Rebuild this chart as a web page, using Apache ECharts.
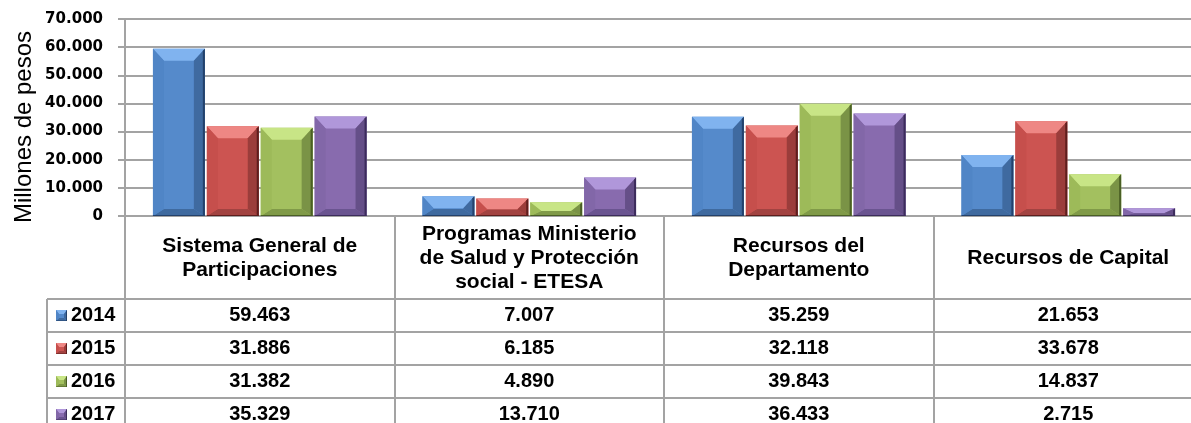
<!DOCTYPE html>
<html>
<head>
<meta charset="utf-8">
<script src="https://cdn.jsdelivr.net/npm/echarts@6/dist/echarts.min.js"></script>
<style>
  html, body { margin: 0; padding: 0; background: #fff; }
  #chart { width: 1191px; height: 423px; }
</style>
</head>
<body>
<div id="chart"></div>
<script>
// data (millones de pesos)
const categories = [
  'Sistema General de\nParticipaciones',
  'Programas Ministerio\nde Salud y Protección\nsocial - ETESA',
  'Recursos del\nDepartamento',
  'Recursos de Capital'
]
const years = ['2014', '2015', '2016', '2017']
const values2014 = [59463, 7007, 35259, 21653]
const values2015 = [31886, 6185, 32118, 33678]
const values2016 = [31382, 4890, 39843, 14837]
const values2017 = [35329, 13710, 36433, 2715]
const seriesValues = [values2014, values2015, values2016, values2017]

// bevel colours per year
const palette = [
  { face: '#558acb', top: '#80b3ef', left: '#5085c6', right: '#3f6aa0', bottom: '#3f6a9f', edge: '#23416b' },
  { face: '#cc5451', top: '#ee8784', left: '#c64f4c', right: '#9b3d3b', bottom: '#a24341', edge: '#5e1e1d' },
  { face: '#a3c05f', top: '#c8e586', left: '#9dba59', right: '#7a9346', bottom: '#809a48', edge: '#4a5f25' },
  { face: '#886bae', top: '#b097da', left: '#8267a8', right: '#654f88', bottom: '#6a5490', edge: '#3c2c5c' }
]

const lineColor = '#a3a3a3'
const fmt = (v) => String(v).replace(/\B(?=(\d{3})+(?!\d))/g, '.')

function bevelShapes(x0, y0, x1, y1, c, bs, bt, bb, e) {
  const h = y1 - y0
  if (bt + bb > h) {
    const k = h / (bt + bb)
    bt *= k
    bb *= k
  }
  bs = Math.min(bs, (x1 - x0) / 2)
  const poly = (pts, fill) => ({ type: 'polygon', shape: { points: pts }, style: { fill: fill } })
  return [
    poly([[x0, y0], [x1, y0], [x1, y1], [x0, y1]], c.face),
    poly([[x0, y0], [x1, y0], [x1 - bs, y0 + bt], [x0 + bs, y0 + bt]], c.top),
    poly([[x0, y1], [x1, y1], [x1 - bs, y1 - bb], [x0 + bs, y1 - bb]], c.bottom),
    poly([[x0, y0], [x0 + bs, y0 + bt], [x0 + bs, y1 - bb], [x0, y1]], c.left),
    poly([[x1, y0], [x1 - bs, y0 + bt], [x1 - bs, y1 - bb], [x1, y1]], c.right),
    poly([[x1 - e, y0 + e], [x1, y0], [x1, y1], [x1 - e, y1]], c.edge),
    poly([[x0, y1 - e / 2], [x1, y1 - e / 2], [x1, y1], [x0, y1]], c.edge)
  ]
}

function renderBar(params, api) {
  const cat = api.value(0)
  const val = api.value(1)
  const base = api.coord([cat, 0])
  const top = api.coord([cat, val])
  const catW = api.size([1, 0])[0]
  const slot = catW * 0.8 / 4
  const x0 = base[0] - catW * 0.4 + slot * params.seriesIndex + 1
  const x1 = x0 + slot - 2
  return {
    type: 'group',
    children: bevelShapes(x0, top[1], x1, base[1], palette[params.seriesIndex], 11, 12, 7, 2)
  }
}

const chart = echarts.init(document.getElementById('chart'))

chart.setOption({
  animation: false,
  backgroundColor: '#fff',
  grid: {
    left: 125,
    top: 19,
    width: 1078,
    height: 197,
    outerBoundsMode: 'none'
  },
  xAxis: {
    type: 'category',
    data: categories,
    axisLine: { lineStyle: { color: lineColor, width: 2 } },
    axisTick: { show: true, length: 220, lineStyle: { color: lineColor, width: 2 } },
    axisLabel: {
      interval: 0,
      margin: 42,
      verticalAlign: 'middle',
      fontFamily: 'Liberation Sans',
      fontWeight: 'bold',
      fontSize: 21,
      lineHeight: 24,
      color: '#000'
    }
  },
  yAxis: {
    type: 'value',
    min: 0,
    max: 70000,
    interval: 10000,
    axisLine: { show: true, lineStyle: { color: lineColor, width: 2 } },
    axisTick: { show: true, length: 7, lineStyle: { color: lineColor, width: 2 } },
    splitLine: { lineStyle: { color: lineColor, width: 2 } },
    axisLabel: {
      margin: 22,
      fontFamily: 'DejaVu Sans',
      fontWeight: 'bold',
      fontSize: 15,
      color: '#000',
      formatter: fmt
    }
  },
  series: seriesValues.map((vals, s) => ({
    name: years[s],
    type: 'custom',
    renderItem: renderBar,
    clip: false,
    encode: { x: 0, y: 1 },
    data: vals.map((v, i) => [i, v])
  }))
})

// data table under the axis, laid out from the axis positions
function buildTable() {
  const zeroY = chart.convertToPixel({ yAxisIndex: 0 }, 0)
  const centers = categories.map((c, i) => chart.convertToPixel({ xAxisIndex: 0 }, i))
  const tableLeft = 47
  const headerH = 83
  const rowH = 33
  const els = []
  for (let r = 0; r <= years.length; r++) {
    const y = zeroY + headerH + r * rowH
    els.push({ type: 'line', shape: { x1: tableLeft, y1: y, x2: 1191, y2: y }, style: { stroke: lineColor, lineWidth: 2 } })
  }
  els.push({ type: 'line', shape: { x1: tableLeft, y1: zeroY + headerH, x2: tableLeft, y2: 440 }, style: { stroke: lineColor, lineWidth: 2 } })
  years.forEach((yr, s) => {
    const cy = zeroY + headerH + s * rowH + rowH / 2
    bevelShapes(tableLeft + 9, cy - 5.5, tableLeft + 20, cy + 5.5, palette[s], 3, 4, 3, 1).forEach(p => els.push(p))
    els.push({
      type: 'text',
      x: tableLeft + 24,
      y: cy,
      style: { text: yr, font: 'bold 20px "Liberation Sans"', fill: '#000', align: 'left', verticalAlign: 'middle' }
    })
    seriesValues[s].forEach((v, i) => {
      els.push({
        type: 'text',
        x: centers[i],
        y: cy,
        style: { text: fmt(v), font: 'bold 20px "Liberation Sans"', fill: '#000', align: 'center', verticalAlign: 'middle' }
      })
    })
  })
  els.push({
    type: 'text',
    x: 24,
    y: 127,
    rotation: Math.PI / 2,
    style: { text: 'Millones de pesos', font: '24px "Liberation Sans"', fill: '#000', align: 'center', verticalAlign: 'middle' }
  })
  chart.setOption({ graphic: els })
}
buildTable()
</script>
</body>
</html>
